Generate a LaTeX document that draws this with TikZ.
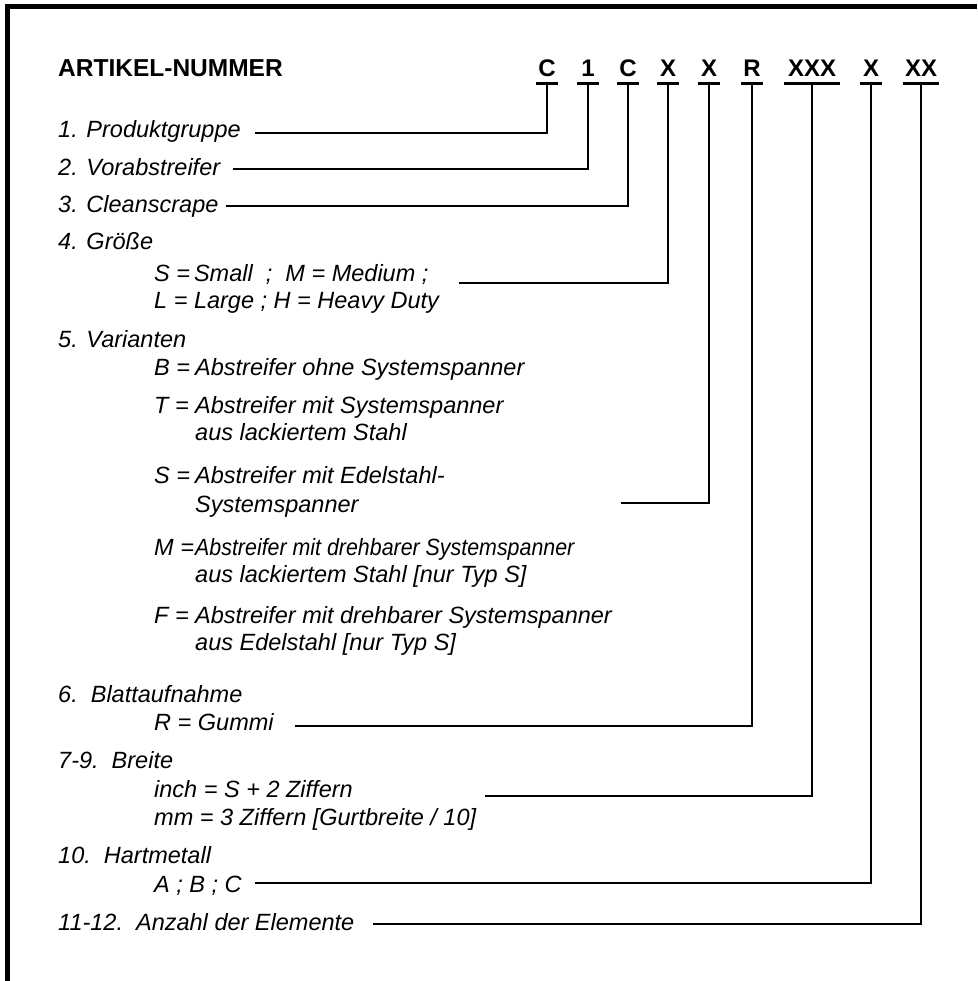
\documentclass[tikz,border=0pt]{standalone}
\usepackage{fontspec}
\setmainfont{Liberation Sans}
\usepackage{graphicx}
\newcommand\keylbl[1]{\makebox[41pt][l]{#1}}
\begin{document}
\begin{tikzpicture}[x=1pt,y=-1pt,
  conn/.style={line width=2.6pt},
  uline/.style={line width=2.6pt},
  frame/.style={line width=5pt},
  lbl/.style={anchor=base west, inner sep=0pt, font=\fontsize{23.5}{28}\selectfont\itshape},
  head/.style={anchor=base west, inner sep=0pt, font=\fontsize{24.5}{28}\selectfont\bfseries},
  code/.style={anchor=base, inner xsep=0pt, inner ysep=0pt, font=\fontsize{24}{28}\selectfont\bfseries},
  c1w/.style={code, minimum width=22pt},
]
\useasboundingbox (0,0) rectangle (977,981);
% frame
\draw[frame] (7.5,981) -- (7.5,6.5) -- (977,6.5);

% heading and code
\node[head] (head) at (58,77) {ARTIKEL-NUMMER};
\node[c1w] (c1) at (547,77) {C};
\node[c1w] (c2) at (588,77) {1};
\node[c1w] (c3) at (628,77) {C};
\node[c1w] (c4) at (668,77) {X};
\node[c1w] (c5) at (709,77) {X};
\node[c1w] (c6) at (752,77) {R};
\node[code, minimum width=56pt] (c7) at (812,77) {XXX};
\node[c1w] (c8) at (871,77) {X};
\node[code, minimum width=36pt] (c9) at (921,77) {XX};
\foreach \c in {c1,c2,c3,c4,c5,c6,c7,c8,c9}{
  \coordinate (\c L) at (\c.base west |- 0,83.5);
  \coordinate (\c R) at (\c.base east |- 0,83.5);
  \coordinate (\c U) at (\c.base |- 0,83.5);
  \draw[uline] (\c L) -- (\c R);
}

% labels
\node[lbl] (l1) at (58,138) {1. Produktgruppe};
\node[lbl] (l2) at (58,176) {2. Vorabstreifer};
\node[lbl] (l3) at (58,213) {3. Cleanscrape};
\node[lbl] (l4) at (58,250) {4. Größe};
\node[lbl] (l4a) at (154,282) {S =\,Small\ \ ;\ \ M = Medium ;};
\node[lbl] (l4b) at (154,308) {L = Large ; H = Heavy Duty};
\node[lbl] (l5) at (58,347) {5. Varianten};
\node[lbl] (l5b) at (154,375) {\keylbl{B =}Abstreifer ohne Systemspanner};
\node[lbl] (l5t) at (154,413) {\keylbl{T =}Abstreifer mit Systemspanner};
\node[lbl] (l5t2) at (195,440) {aus lackiertem Stahl};
\node[lbl] (l5s) at (154,483) {\keylbl{S =}Abstreifer mit Edelstahl-};
\node[lbl] (l5s2) at (195,512) {Systemspanner};
\node[lbl] (l5m) at (154,555) {\keylbl{M =}\scalebox{0.91}[1]{Abstreifer mit drehbarer Systemspanner}};
\node[lbl] (l5m2) at (195,582) {aus lackiertem Stahl [nur Typ S]};
\node[lbl] (l5f) at (154,623) {\keylbl{F =}Abstreifer mit drehbarer Systemspanner};
\node[lbl] (l5f2) at (195,650) {aus Edelstahl [nur Typ S]};
\node[lbl] (l6) at (58,702) {6.\ \ Blattaufnahme};
\node[lbl] (l6a) at (154,730) {R = Gummi};
\node[lbl] (l7) at (58,768) {7-9.\ \ Breite};
\node[lbl] (l7a) at (154,797) {inch = S + 2 Ziffern};
\node[lbl] (l7b) at (154,825) {mm = 3 Ziffern [Gurtbreite / 10]};
\node[lbl] (l10) at (58,863) {10.\ \ Hartmetall};
\node[lbl] (l10a) at (154,892) {A ; B ; C};
\node[lbl] (l11) at (58,930) {11-12.\ \ Anzahl der Elemente};

% connector start points
\coordinate (h1) at (255,133);
\coordinate (h2) at (233,169);
\coordinate (h3) at (226,206);
\coordinate (h4) at (459,283);
\coordinate (h5) at (621,503);
\coordinate (h6) at (295,726);
\coordinate (h7) at (485,796);
\coordinate (h8) at (255,883);
\coordinate (h9) at (373,924);
\foreach \i in {1,...,9}{
  \draw[conn] (h\i) -| (c\i U);
}
\end{tikzpicture}
\end{document}
